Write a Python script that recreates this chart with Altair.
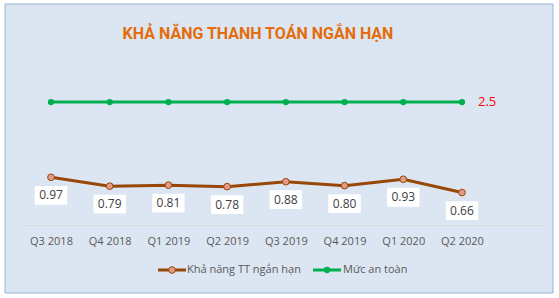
import json
import altair as alt
import pandas as pd

quarters = ["Q3 2018", "Q4 2018", "Q1 2019", "Q2 2019", "Q3 2019", "Q4 2019", "Q1 2020", "Q2 2020"]
ratio = [0.97, 0.79, 0.81, 0.78, 0.88, 0.80, 0.93, 0.66]
safe = [2.5, 2.5, 2.5, 2.5, 2.5, 2.5, 2.5, 2.5]
title_text = "KHẢ NĂNG THANH TOÁN NGẮN HẠN"
series_names = ["Khả năng TT ngắn hạn", "Mức an toàn"]

df = pd.DataFrame({"q": quarters, "i": list(range(len(quarters))), "ratio": ratio, "safe": safe})
df["lbl"] = [f"{v:.2f}" for v in ratio]

FONT = "Open Sans"
BROWN = "#974806"
MFILL = "#E39A88"
GREEN = "#00B050"
W, H = 524, 150

label_expr = json.dumps(quarters) + "[datum.value]"
xscale = alt.Scale(domain=[-0.511, 8.414], nice=False, zero=False)
xenc_axis = alt.X("i:Q", scale=xscale,
                  axis=alt.Axis(title=None, values=list(range(len(quarters))), labelExpr=label_expr,
                                domainColor="#D9D9D9", domainWidth=1, ticks=False,
                                labelColor="#595959", labelFont=FONT, labelFontSize=11,
                                labelPadding=10, grid=False, labelFlush=False, labelOverlap=False,
                                zindex=1))
xenc = alt.X("i:Q", scale=xscale)
yscale = alt.Scale(domain=[0, 3.05], nice=False)

base = alt.Chart(df)
one = base.transform_filter("datum.i == 0")

frame = one.mark_rect(fill="#DCE6F2", stroke="#95B3D7", strokeWidth=1).encode(
    x=alt.value(-16), x2=alt.value(532), y=alt.value(-71), y2=alt.value(218))

title = one.mark_text(text=title_text, font="Roboto", fontSize=16, fontWeight="bold",
                      color="#E46C0A", align="center", baseline="middle").encode(
    x=alt.value(237), y=alt.value(-41))

r_line = base.mark_line(color=BROWN, strokeWidth=3).encode(
    x=xenc_axis, y=alt.Y("ratio:Q", scale=yscale, axis=None))
safe_line = base.mark_line(color=GREEN, strokeWidth=3).encode(
    x=xenc, y=alt.Y("safe:Q", scale=yscale))
safe_pts = base.mark_circle(color=GREEN, size=40, opacity=1).encode(
    x=xenc, y=alt.Y("safe:Q", scale=yscale))
safe_lbl = base.mark_text(color="#FF0000", font=FONT, fontSize=13, align="left",
                          baseline="middle", dx=16).encode(
    x=xenc, y=alt.Y("safe:Q", scale=yscale), text=alt.value("2.5")
).transform_filter("datum.i == 7")

r_pts = base.mark_point(filled=True, fill=MFILL, stroke=BROWN, strokeWidth=1,
                        size=45, opacity=1, shape="circle").encode(
    x=xenc, y=alt.Y("ratio:Q", scale=yscale))
boxes = base.mark_point(filled=True, fill="white", opacity=1, strokeWidth=0,
                        shape="M-1,-0.58H1V0.58H-1Z", size=1050, yOffset=18).encode(
    x=xenc, y=alt.Y("ratio:Q", scale=yscale))
r_lbl = base.mark_text(font=FONT, fontSize=12, color="#404040", yOffset=18,
                       baseline="middle", align="center").encode(
    x=xenc, y=alt.Y("ratio:Q", scale=yscale), text="lbl:N")

leg = alt.layer(
    one.mark_rule(color=BROWN, strokeWidth=3).encode(x=alt.value(137), x2=alt.value(165), y=alt.value(195)),
    one.mark_point(filled=True, fill=MFILL, stroke=BROWN, strokeWidth=1, size=45, opacity=1).encode(
        x=alt.value(151), y=alt.value(195)),
    one.mark_text(text=series_names[0], font=FONT, fontSize=11, color="#595959",
                  align="left", baseline="middle").encode(x=alt.value(166), y=alt.value(195)),
    one.mark_rule(color=GREEN, strokeWidth=3).encode(x=alt.value(292), x2=alt.value(320), y=alt.value(195)),
    one.mark_circle(color=GREEN, size=40, opacity=1).encode(x=alt.value(306), y=alt.value(195)),
    one.mark_text(text=series_names[1], font=FONT, fontSize=11, color="#595959",
                  align="left", baseline="middle").encode(x=alt.value(322), y=alt.value(195)),
)

chart = alt.layer(frame, title, r_line, safe_line, safe_pts, safe_lbl, r_pts, boxes, r_lbl, leg).properties(
    width=W, height=H,
    autosize=alt.AutoSizeParams(type="none"),
    padding={"left": 21, "top": 75, "right": 14, "bottom": 73},
    background="white",
).configure_view(stroke=None)

chart.save("out.html", embed_options={"renderer": "svg", "actions": False})
